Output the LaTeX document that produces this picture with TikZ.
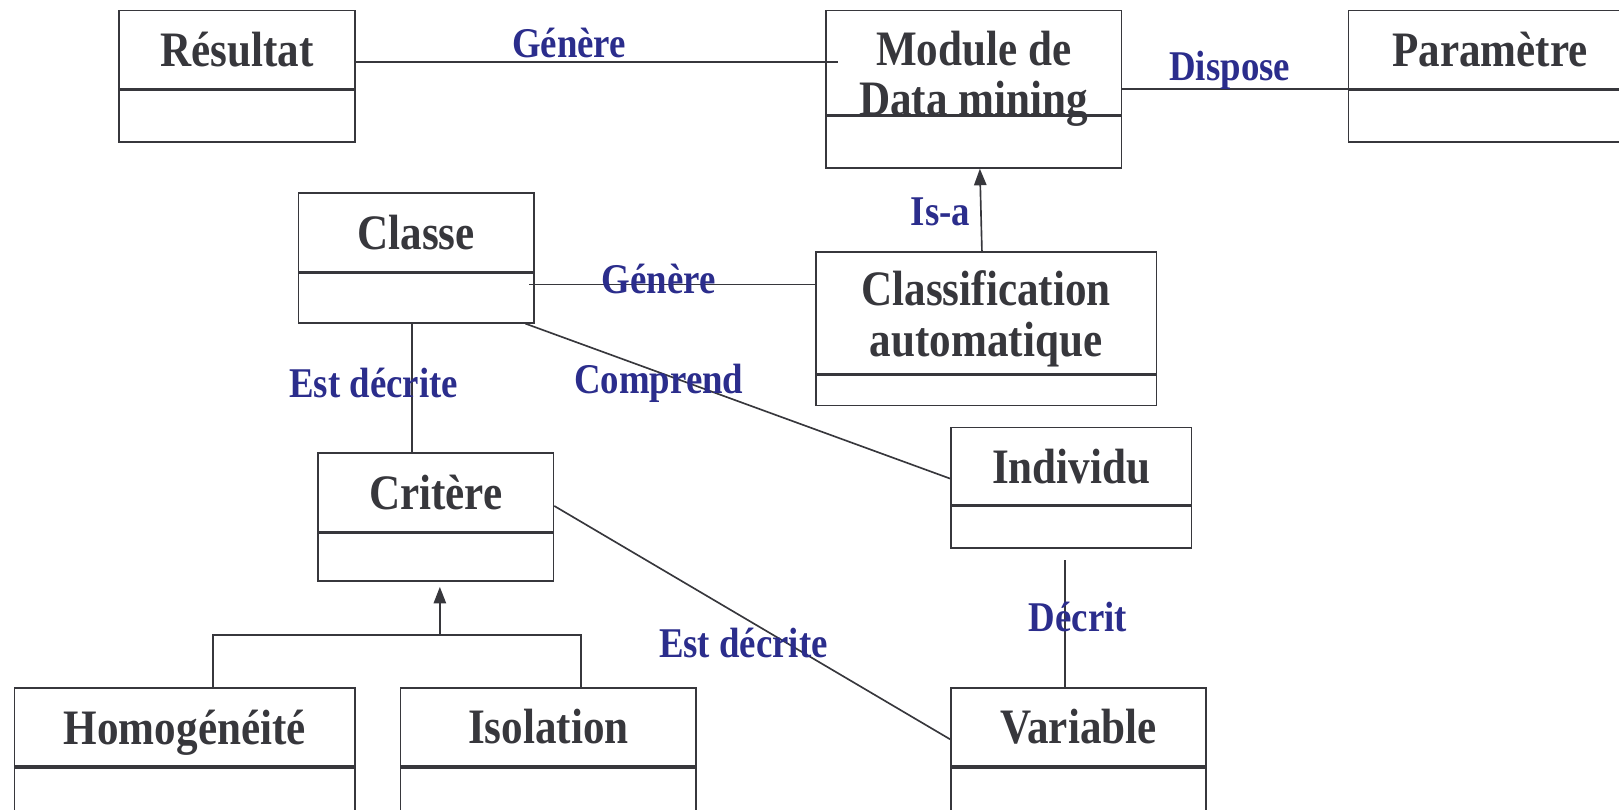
\documentclass[tikz,border=0pt]{standalone}
\usepackage{fontspec}
\usepackage{xcolor}
\usepackage{tikz}
\usetikzlibrary{arrows.meta,positioning}
\newfontfamily\umlfont{Liberation Serif}[FakeStretch=0.87]
\definecolor{traitgris}{RGB}{55,55,60}
\definecolor{bleulien}{RGB}{43,45,140}

\tikzset{
  entete/.style={draw=traitgris, line width=0.8pt, inner sep=0pt, align=center,
    text=traitgris, font=\umlfont\bfseries\fontsize{24}{24.5}\selectfont},
  corps/.style={draw=traitgris, line width=0.8pt, inner sep=0pt, below=0pt of #1},
  etiq/.style={text=bleulien, inner sep=1pt,
    font=\umlfont\bfseries\fontsize{20.5}{24}\selectfont},
  lien/.style={draw=traitgris, line width=0.8pt},
  fleche/.style={lien, -{Triangle[width=6pt,length=8pt]}}
}

\begin{document}
\begin{tikzpicture}[x=0.5pt,y=-0.5pt]
\useasboundingbox (0,0) rectangle (1568,784);
\clip (0,0) rectangle (1568,784);

% classes du haut
\node[entete, minimum width=114.5pt, minimum height=38pt] (res) at (229.5,48) {Résultat};
\node[corps=res, minimum width=114.5pt, minimum height=25pt] (resb) {};
\node[entete, minimum width=143pt, minimum height=50.5pt] (mod) at (943,60.5)
  {\raisebox{-8.75pt}[\height][\depth]{\begin{tabular}{@{}c@{}}Module de\\Data mining\end{tabular}}};
\node[corps=mod, minimum width=143pt, minimum height=25pt] (modb) {};
\node[entete, minimum width=137pt, minimum height=38pt] (par) at (1443,48) {Paramètre};
\node[corps=par, minimum width=137pt, minimum height=25pt] (parb) {};

% classes du milieu
\node[entete, minimum width=114pt, minimum height=38pt] (cla) at (403,225) {Classe};
\node[corps=cla, minimum width=114pt, minimum height=24pt] (clab) {};
\node[entete, minimum width=165pt, minimum height=59pt] (cau) at (955,303)
  {\raisebox{-4pt}[\height][\depth]{\begin{tabular}{@{}c@{}}Classification\\automatique\end{tabular}}};
\node[corps=cau, minimum width=165pt, minimum height=14.5pt] (caub) {};
\node[entete, minimum width=116.5pt, minimum height=37.5pt] (ind) at (1037.5,451.5) {Individu};
\node[corps=ind, minimum width=116.5pt, minimum height=20pt] (indb) {};
\node[entete, minimum width=114pt, minimum height=38pt] (cri) at (422,477) {Critère};
\node[corps=cri, minimum width=114pt, minimum height=23pt] (crib) {};

% classes du bas
\node[entete, minimum width=165pt, minimum height=38pt, text depth=0pt] (hom) at (179,704) {Homogénéité};
\node[corps=hom, minimum width=165pt, minimum height=29pt] (homb) {};
\node[entete, minimum width=143pt, minimum height=38pt] (iso) at (531,704) {Isolation};
\node[corps=iso, minimum width=143pt, minimum height=29pt] (isob) {};
\node[entete, minimum width=123.5pt, minimum height=38pt] (var) at (1044.5,704) {Variable};
\node[corps=var, minimum width=123.5pt, minimum height=29pt] (varb) {};

% associations
\draw[lien] ([yshift=-6pt]res.east) -- ([yshift=-6pt,xshift=6pt]res.east -| mod.west);
\draw[lien] ([yshift=-12.75pt]mod.east) -- ([yshift=-12.75pt]mod.east -| par.west);
\draw[lien] ([yshift=6.5pt,xshift=-2.5pt]clab.east) -- ([yshift=6.5pt]clab.east -| cau.west);
\draw[fleche] ([xshift=-2pt]cau.north) -- ([xshift=3pt]modb.south);
\draw[lien] ([xshift=-4.5pt]clab.south east) -- ([yshift=-6pt]ind.west);
\draw[lien] ([xshift=-2pt]clab.south) -- ([xshift=-2pt]clab.south |- cri.north);
\draw[lien] ([yshift=-6.5pt]cri.east) -- ([yshift=-6pt]var.west);
\draw[lien] ([xshift=-3pt,yshift=-5.5pt]indb.south) -- ([xshift=-3pt]indb.south |- var.north);

% heritage des criteres
\coordinate (jonc) at (426,615);
\draw[lien] ([xshift=13.5pt]hom.north) |- (jonc) -| ([xshift=16pt]iso.north);
\draw[fleche] (jonc) -- ([xshift=2pt,yshift=-2.5pt]crib.south);

% etiquettes
\node[etiq] (lgen1) at (551,42) {Génère};
\node[etiq] (ldisp) at (1191,68) {Dispose};
\node[etiq] (lisa) at (911,205) {Is-a};
\node[etiq] (lgen2) at (638,270) {Génère};
\node[etiq] (ldecr1) at (362,371) {Est décrite};
\node[etiq] (lcomp) at (638,371) {Comprend};
\node[etiq] (ldecr2) at (720,623) {Est décrite};
\node[etiq] (ldecrit) at (1044,598) {Décrit};

\end{tikzpicture}
\end{document}
